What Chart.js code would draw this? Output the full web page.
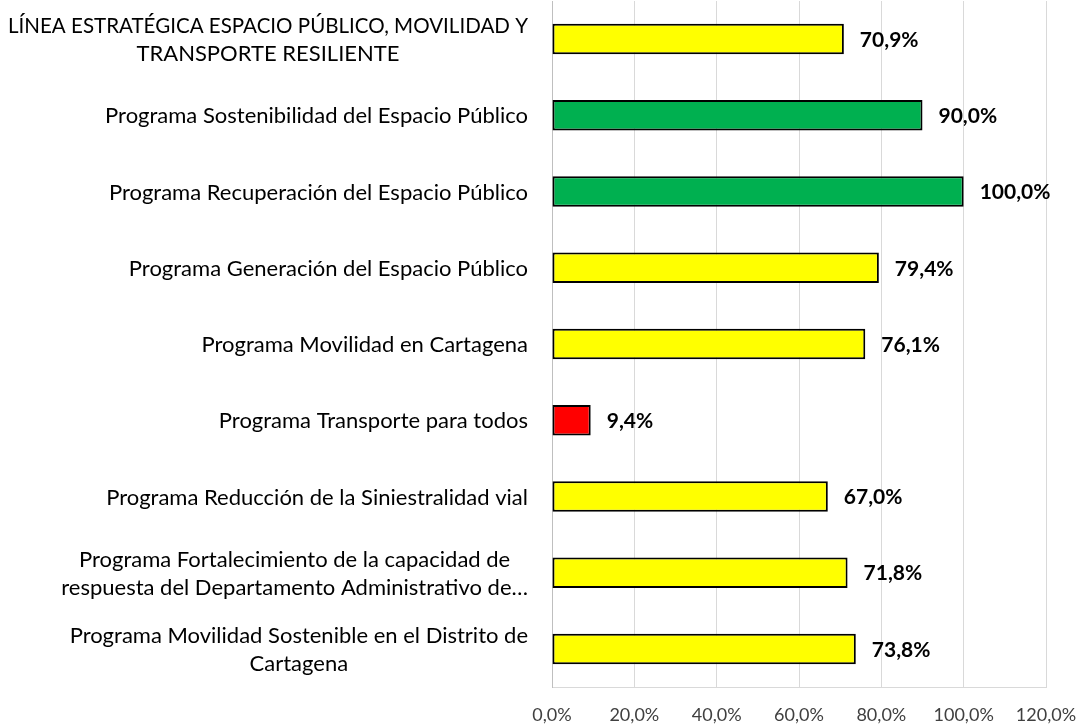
<!DOCTYPE html>
<html>
<head>
<meta charset="utf-8">
<script src="https://cdn.jsdelivr.net/npm/chart.js@4/dist/chart.umd.min.js"></script>
<style>
  html, body { margin: 0; padding: 0; background: #fff; }
  #wrap { width: 1085px; height: 726px; }
</style>
</head>
<body>
<div id="wrap"><canvas id="chart1" width="1085" height="726"></canvas></div>
<script>
// categorias (cada una partida en lineas como en el original)
const labels1 = [
  ['LÍNEA ESTRATÉGICA ESPACIO PÚBLICO, MOVILIDAD Y', 'TRANSPORTE RESILIENTE'],
  ['Programa Sostenibilidad del Espacio Público'],
  ['Programa Recuperación del Espacio Público'],
  ['Programa Generación del Espacio Público'],
  ['Programa Movilidad en Cartagena'],
  ['Programa Transporte para todos'],
  ['Programa Reducción de la Siniestralidad vial'],
  ['Programa Fortalecimiento de la capacidad de', 'respuesta del Departamento Administrativo de…'],
  ['Programa Movilidad Sostenible en el Distrito de', 'Cartagena']
];
const valores = [70.9, 90.0, 100.0, 79.4, 76.1, 9.4, 67.0, 71.8, 73.8];
const colores = ['#FFFF00', '#00B050', '#00B050', '#FFFF00', '#FFFF00', '#FF0000', '#FFFF00', '#FFFF00', '#FFFF00'];
const ticksX = [0, 20, 40, 60, 80, 100, 120];

const fuente = "Lato, 'Open Sans', sans-serif";

function pct(v) {
  return v.toFixed(1).replace('.', ',') + '%';
}

// etiquetas del eje y: bloque alineado a la derecha, lineas centradas entre si
const etiquetasY = {
  id: 'etiquetasY',
  afterDraw(chart) {
    const ctx = chart.ctx;
    const y = chart.scales.y;
    const derecha = y.right - 24;
    const maxAncho = derecha - 8;
    ctx.save();
    ctx.font = '22px ' + fuente;
    ctx.fillStyle = '#000';
    ctx.textBaseline = 'middle';
    ctx.textAlign = 'center';
    const alto = 28.5;
    labels1.forEach((lineas, i) => {
      const anchoMax = Math.min(maxAncho, Math.max(...lineas.map(l => ctx.measureText(l).width)));
      const cx = derecha - anchoMax / 2;
      const cy = y.getPixelForTick(i) + 1;
      const inicio = cy - (lineas.length - 1) * alto / 2;
      lineas.forEach((l, k) => ctx.fillText(l, cx, inicio + k * alto, maxAncho));
    });
    ctx.restore();
  }
};

// valores al final de cada barra
const etiquetasValor = {
  id: 'etiquetasValor',
  afterDatasetsDraw(chart) {
    const ctx = chart.ctx;
    const meta = chart.getDatasetMeta(0);
    ctx.save();
    ctx.font = 'bold 21px ' + fuente;
    ctx.fillStyle = '#000';
    ctx.textBaseline = 'middle';
    ctx.textAlign = 'left';
    meta.data.forEach((bar, i) => {
      ctx.fillText(pct(valores[i]), bar.x + 16, bar.y + 1);
    });
    ctx.restore();
  }
};

const data1 = {
  labels: labels1.map(l => l.join(' ')),
  datasets: [{
    data: valores,
    backgroundColor: colores,
    borderColor: '#000',
    borderWidth: 2,
    borderSkipped: false,
    barPercentage: 0.4,
    categoryPercentage: 1.0
  }]
};

const config1 = {
  type: 'bar',
  data: data1,
  options: {
    indexAxis: 'y',
    responsive: false,
    animation: false,
    layout: { padding: { top: 1, right: 0, left: 0, bottom: 0 } },
    plugins: {
      legend: { display: false },
      tooltip: { enabled: false }
    },
    scales: {
      x: {
        min: 0,
        max: 120,
        afterBuildTicks(scale) {
          scale.ticks = ticksX.map(v => ({ value: v }));
        },
        afterFit(scale) {
          scale.height = 39;
          scale.paddingLeft = 0;
          scale.paddingRight = 39;
        },
        grid: { color: '#d9d9d9', lineWidth: 1, drawTicks: false },
        border: { color: '#d9d9d9' },
        ticks: {
          padding: 17,
          color: '#404040',
          maxRotation: 0,
          font: { family: fuente, size: 18 },
          callback: v => pct(v)
        }
      },
      y: {
        afterFit(scale) { scale.width = 552; },
        grid: { display: false, drawTicks: false },
        border: { color: '#bfbfbf' },
        ticks: { display: false }
      }
    }
  },
  plugins: [etiquetasY, etiquetasValor]
};

const myChart1 = new Chart(
  document.getElementById('chart1'),
  config1
);
</script>
</body>
</html>
